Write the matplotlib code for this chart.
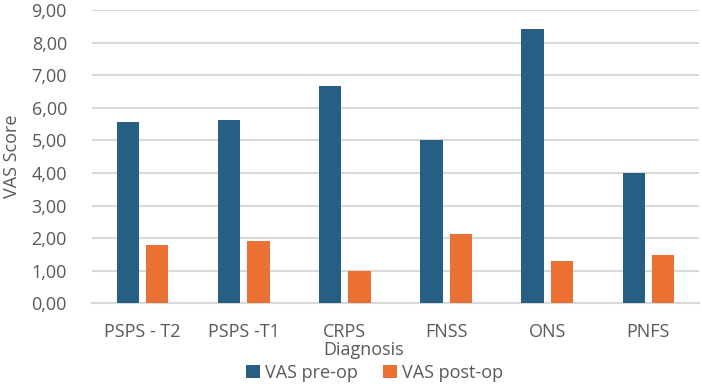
import numpy as np
import matplotlib
matplotlib.use('Agg')
import matplotlib.pyplot as plt
from matplotlib.ticker import FuncFormatter

# data
categories = ['PSPS - T2', 'PSPS -T1', 'CRPS', 'FNSS', 'ONS', 'PNFS']
vas_pre = [5.56, 5.62, 6.66, 5.00, 8.42, 4.00]
vas_post = [1.79, 1.91, 0.98, 2.12, 1.29, 1.48]

blue = '#275f84'
orange = '#ea7133'
grey = '#595959'

plt.rcParams['font.family'] = ['Open Sans', 'DejaVu Sans']

fig = plt.figure(figsize=(7.02, 3.84), dpi=100)
ax = fig.add_axes([92 / 702, 1 - 303.3 / 384, 607 / 702, 293.3 / 384])

x = np.arange(len(categories))
w = 0.22
ax.bar(x - 0.145, vas_pre, w, color=blue, label='VAS pre-op', zorder=3)
ax.bar(x + 0.145, vas_post, w, color=orange, label='VAS post-op', zorder=3)

ax.set_xlim(-0.5, len(categories) - 0.5)
ax.set_ylim(0, 9)
ax.set_yticks(range(0, 10))
ax.yaxis.set_major_formatter(FuncFormatter(lambda v, p: f'{v:.2f}'.replace('.', ',')))
ax.set_xticks(x)
ax.set_xticklabels(categories)

ax.grid(axis='y', color='#d9d9d9', linewidth=1.5, zorder=0)
for s in ['top', 'right', 'left']:
    ax.spines[s].set_visible(False)
ax.spines['bottom'].set_color('#d9d9d9')
ax.spines['bottom'].set_linewidth(1.5)
ax.tick_params(axis='both', length=0, labelsize=13, colors=grey)
ax.tick_params(axis='x', pad=14)
ax.tick_params(axis='y', pad=18)

ax.set_xlabel('Diagnosis', fontsize=13, color=grey, va='center')
ax.xaxis.set_label_coords(0.448, -0.158)
ax.set_ylabel('VAS Score', fontsize=13, color=grey, va='center')
ax.yaxis.set_label_coords(-80 / 607, 0.5)

fig.legend(loc='center', bbox_to_anchor=(0.534, 1 - 373 / 384), ncol=2, frameon=False,
           fontsize=13, labelcolor=grey, handlelength=0.75, handleheight=0.75,
           handletextpad=0.3, columnspacing=1.4, borderpad=0)

fig.savefig('out.png', dpi=100)
